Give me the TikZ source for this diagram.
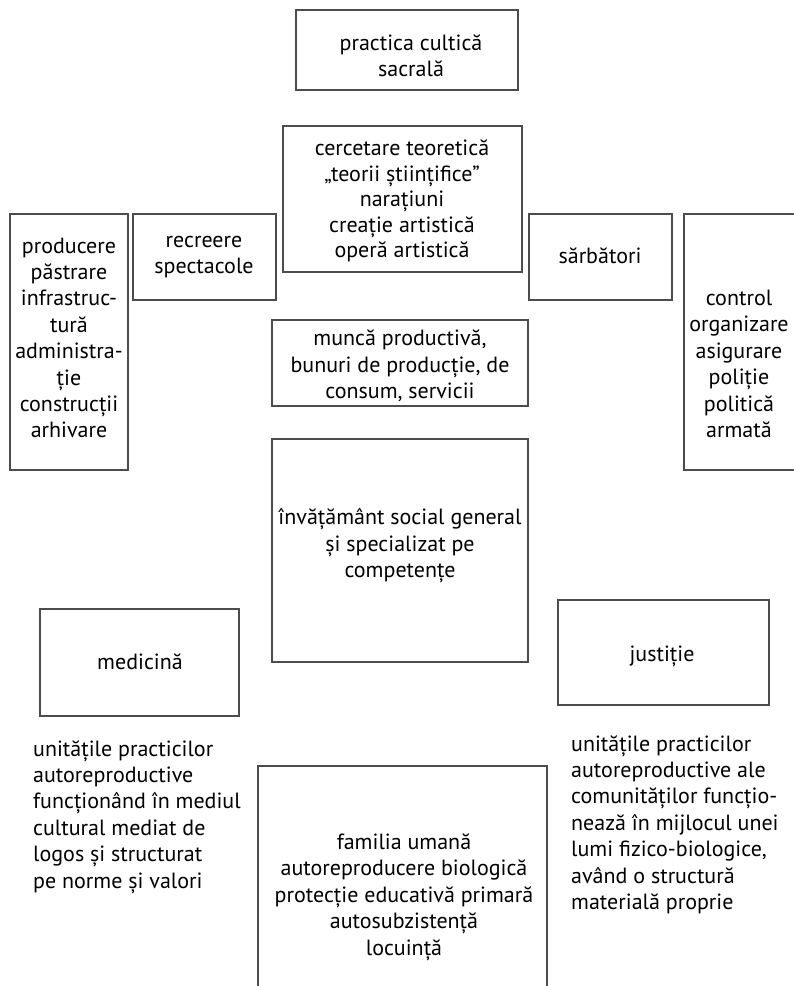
\documentclass[tikz,border=0pt]{standalone}
\usepackage{fontspec}
\setmainfont{PT Sans}
\begin{document}
\begin{tikzpicture}[x=1pt,y=-1pt,
  box/.style={draw=black!70,line width=1.1pt,inner sep=0pt,minimum width=#1},
  txt/.style={align=center,inner sep=0pt,font=\fontsize{22}{26.4}\selectfont},
  ltxt/.style={align=left,inner sep=0pt,anchor=north west,font=\fontsize{22}{26.4}\selectfont}]
\useasboundingbox (0,0) rectangle (794,986);
% frames, given by their corners
\newcommand{\frameat}[5]{\node[box=#4-#2,minimum height=#5-#3] (#1) at ({(#2+#4)/2},{(#3+#5)/2}) {};}
\frameat{cult}{296}{10}{518}{90}
\frameat{cerc}{283}{126}{522}{272}
\frameat{recr}{133}{214}{276}{300}
\frameat{prod}{10}{214}{128}{470}
\frameat{sarb}{529}{214}{672}{300}
\frameat{ctrl}{684}{214}{800}{470}
\frameat{munca}{272}{320}{528}{406}
\frameat{invat}{272}{439}{528}{662}
\frameat{med}{40}{609}{239}{716}
\frameat{just}{558}{600}{769}{705}
\frameat{fam}{258}{766}{547}{1000}
% texts inside the frames
\node[txt] (tcult) at (411,56) {practica cultică\\sacrală};
\node[txt,font=\fontsize{22}{25.4}\selectfont] (tcerc) at (402,201) {cercetare teoretică\\„teorii științifice”\\narațiuni\\creație artistică\\operă artistică};
\node[txt] (trecr) at (204,257) {recreere\\spectacole};
\node[txt] (tprod) at (69,338) {producere\\păstrare\\infrastruc-\\tură\\administra-\\ție\\construcții\\arhivare};
\node[txt] (tsarb) at (600,256) {sărbători};
\node[txt] (tctrl) at (739,364) {control\\organizare\\asigurare\\poliție\\politică\\armată};
\node[txt] (tmunca) at (400,366) {muncă productivă,\\bunuri de producție, de\\consum, servicii};
\node[txt] (tinvat) at (400,546) {învățământ social general\\și specializat pe\\competențe};
\node[txt] (tmed) at (140,662) {medicină};
\node[txt] (tjust) at (662,656) {justiție};
\node[txt] (tfam) at (404,897) {familia umană\\autoreproducere biologică\\protecție educativă primară\\autosubzistență\\locuință};
% free-standing captions
\node[ltxt] (tleft) at (33,740) {unitățile practicilor\\autoreproductive\\funcționând în mediul\\cultural mediat de\\logos și structurat\\pe norme și valori};
\node[ltxt] (tright) at (571,735) {unitățile practicilor\\autoreproductive ale\\comunităților funcțio-\\nează în mijlocul unei\\lumi fizico-biologice,\\având o structură\\materială proprie};
\end{tikzpicture}
\end{document}
